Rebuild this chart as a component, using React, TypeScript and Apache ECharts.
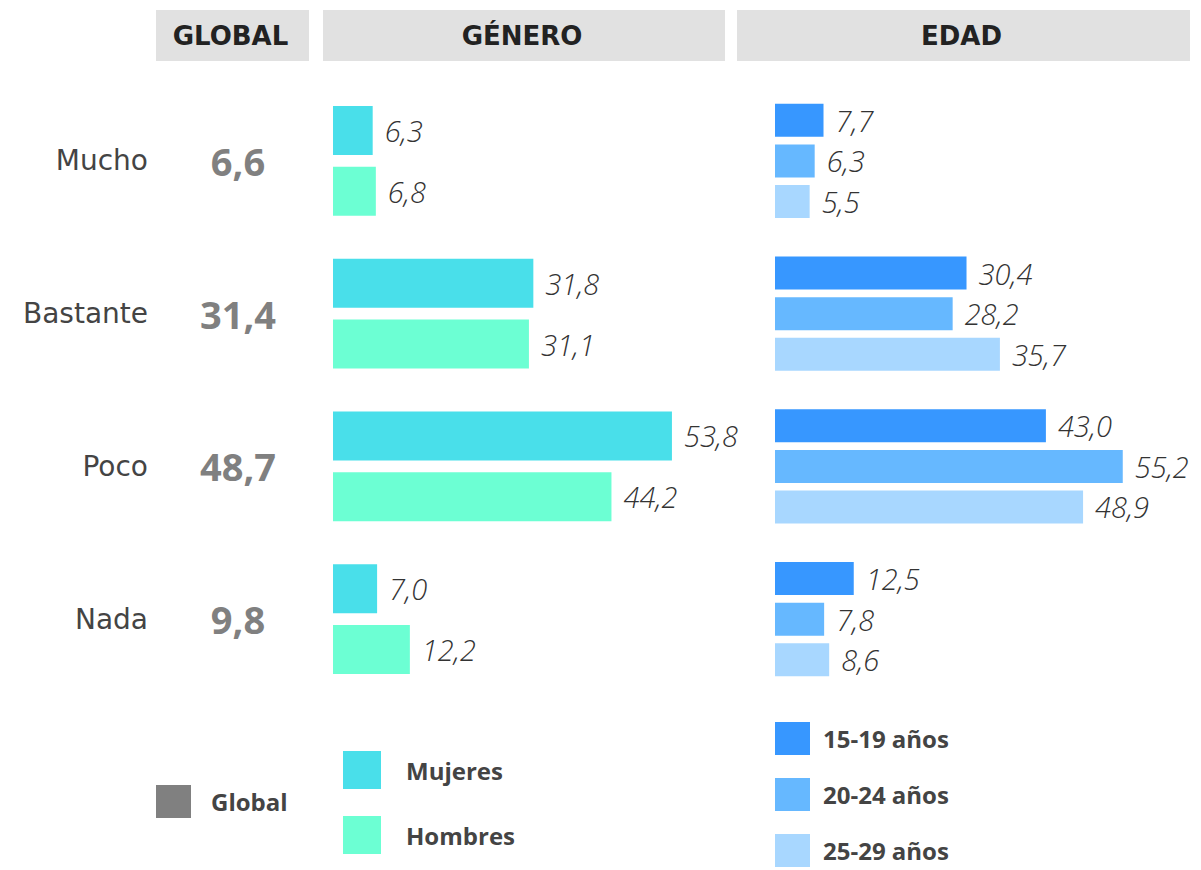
import React, { useEffect, useRef } from "react";
import * as echarts from "echarts";

const categories = ["Mucho", "Bastante", "Poco", "Nada"];
const globalValues = [6.6, 31.4, 48.7, 9.8];
const mujeres = [6.3, 31.8, 53.8, 7.0];
const hombres = [6.8, 31.1, 44.2, 12.2];
const edad1519 = [7.7, 30.4, 43.0, 12.5];
const edad2024 = [6.3, 28.2, 55.2, 7.8];
const edad2529 = [5.5, 35.7, 48.9, 8.6];
const headers = ["GLOBAL", "GÉNERO", "EDAD"];

const FONT = "'Open Sans', 'Noto Sans', sans-serif";
const WIDE = "'DejaVu Sans', 'Open Sans', sans-serif";
const fmt = (v: number) => v.toFixed(1).replace(".", ",");

export default function App() {
  const ref = useRef<HTMLDivElement>(null);
  useEffect(() => {
    if (!ref.current) return;
    const chart = echarts.init(ref.current, undefined, { renderer: "svg" });
    const gridTop = 84.5;
    const gridH = 611;
    const hiddenX = (gi: number, max: number) => ({
      type: "value",
      gridIndex: gi,
      min: 0,
      max,
      show: false,
    });
    const catY = (gi: number, showLabel: boolean) => ({
      type: "category",
      gridIndex: gi,
      data: categories,
      inverse: true,
      axisLine: { show: false },
      axisTick: { show: false },
      splitLine: { show: false },
      axisLabel: {
        show: showLabel,
        margin: 12,
        color: "#444",
        fontFamily: WIDE,
        fontSize: 28,
        fontWeight: "normal",
      },
    });
    const valueLabel = {
      show: true,
      position: "right",
      distance: 12,
      color: "#333",
      fontFamily: FONT,
      fontStyle: "italic",
      fontWeight: 300,
      fontSize: 29,
      formatter: (p: any) => fmt(p.value),
    };
    const legendText = {
      color: "#444",
      fontFamily: FONT,
      fontWeight: "bold",
      fontSize: 24,
    };
    const headerRects = [
      { x: 156, w: 153 },
      { x: 323, w: 402 },
      { x: 737, w: 453 },
    ];
    const graphic: any[] = [];
    headerRects.forEach((r, i) => {
      graphic.push({
        type: "rect",
        left: r.x,
        top: 10,
        shape: { width: r.w, height: 51 },
        style: { fill: "#e1e1e1" },
        z: 0,
      });
      graphic.push({
        type: "text",
        x: r.x + r.w / 2 - 2,
        y: 36,
        style: {
          text: headers[i],
          fill: "#222",
          font: `bold 26px ${WIDE}`,
          textAlign: "center",
          textVerticalAlign: "middle",
        },
        z: 1,
      });
    });

    chart.setOption({
      animation: false,
      textStyle: { fontFamily: FONT },
      grid: [
        { left: 160, top: gridTop, width: 156, height: gridH },
        { left: 333, top: gridTop, width: 378, height: gridH },
        { left: 775, top: gridTop, width: 378, height: gridH },
      ],
      xAxis: [hiddenX(0, 1), hiddenX(1, 60), hiddenX(2, 60)],
      yAxis: [catY(0, true), catY(1, false), catY(2, false)],
      legend: [
        {
          data: ["Global"],
          left: 156,
          top: 785,
          padding: 0,
          icon: "rect",
          itemWidth: 35,
          itemHeight: 33,
          selectedMode: false,
          textStyle: { ...legendText, padding: [0, 0, 0, 15] },
        },
        {
          data: ["Mujeres", "Hombres"],
          orient: "vertical",
          left: 343,
          top: 751,
          padding: 0,
          icon: "rect",
          itemWidth: 38,
          itemHeight: 38,
          itemGap: 27,
          selectedMode: false,
          textStyle: { ...legendText, padding: [0, 0, 0, 20] },
        },
        {
          data: ["15-19 años", "20-24 años", "25-29 años"],
          orient: "vertical",
          left: 775,
          top: 722,
          height: 200,
          padding: 0,
          icon: "rect",
          itemWidth: 35,
          itemHeight: 33,
          itemGap: 23,
          selectedMode: false,
          textStyle: { ...legendText, padding: [0, 0, 0, 8] },
        },
      ],
      graphic,
      series: [
        {
          name: "Global",
          type: "scatter",
          xAxisIndex: 0,
          yAxisIndex: 0,
          symbolSize: 0,
          itemStyle: { color: "#808080", opacity: 1 },
          data: globalValues.map((v, i) => [0.5, i, v]),
          label: {
            show: true,
            position: "inside",
            color: "#808080",
            fontFamily: FONT,
            fontWeight: "bold",
            fontSize: 38,
            formatter: (p: any) => fmt(p.value[2]),
          },
        },
        {
          name: "Mujeres",
          type: "bar",
          xAxisIndex: 1,
          yAxisIndex: 1,
          data: mujeres,
          barWidth: 49,
          barGap: "24%",
          itemStyle: { color: "#49dfea" },
          label: valueLabel,
        },
        {
          name: "Hombres",
          type: "bar",
          xAxisIndex: 1,
          yAxisIndex: 1,
          data: hombres,
          barWidth: 49,
          barGap: "24%",
          itemStyle: { color: "#6cffd3" },
          label: valueLabel,
        },
        {
          name: "15-19 años",
          type: "bar",
          xAxisIndex: 2,
          yAxisIndex: 2,
          data: edad1519,
          barWidth: 33,
          barGap: "23%",
          itemStyle: { color: "#3797ff" },
          label: valueLabel,
        },
        {
          name: "20-24 años",
          type: "bar",
          xAxisIndex: 2,
          yAxisIndex: 2,
          data: edad2024,
          barWidth: 33,
          barGap: "23%",
          itemStyle: { color: "#66b8ff" },
          label: valueLabel,
        },
        {
          name: "25-29 años",
          type: "bar",
          xAxisIndex: 2,
          yAxisIndex: 2,
          data: edad2529,
          barWidth: 33,
          barGap: "23%",
          itemStyle: { color: "#a8d7ff" },
          label: valueLabel,
        },
      ],
    });
    return () => chart.dispose();
  }, []);
  return (
    <div
      ref={ref}
      style={{ position: "absolute", left: 0, top: 0, width: 1201, height: 870 }}
    />
  );
}
